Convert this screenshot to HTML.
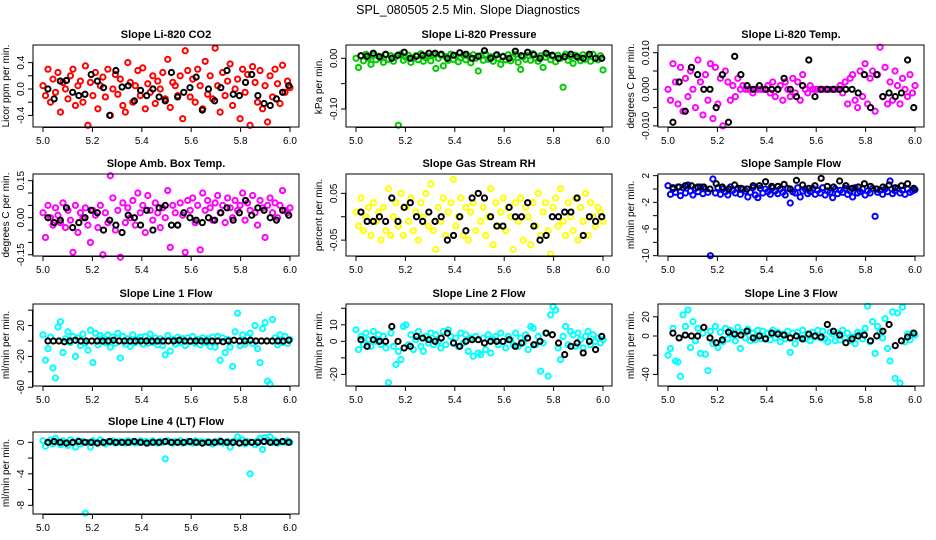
<!DOCTYPE html>
<html><head><meta charset="utf-8"><style>
body{margin:0;background:#fff}
svg{display:block;font-family:"Liberation Sans",sans-serif}
</style></head><body>
<svg id="chart" width="936" height="540" viewBox="0 0 936 540">
<text x="468" y="14" text-anchor="middle" font-size="12.5">SPL_080505  2.5 Min. Slope Diagnostics</text>
</svg>
<script>
const xTickLabels=["5.0","5.2","5.4","5.6","5.8","6.0"];
const xTickValues=[5.0,5.2,5.4,5.6,5.8,6.0];
const co2Vals=[0.05,-0.1,0.3,-0.2,0.15,-0.05,0.25,-0.35,0.1,0.0,-0.15,0.2,0.3,-0.25,0.05,0.12,-0.2,0.35,-0.55,0.1,-0.1,0.25,-0.3,0.05,0.18,-0.12,0.3,-0.4,0.0,0.22,-0.08,0.15,-0.25,-0.35,0.4,0.1,-0.2,0.05,0.28,-0.1,0.32,-0.3,0.08,-0.05,0.2,-0.22,0.12,0.0,0.25,-0.15,0.45,-0.28,0.1,0.05,-0.1,0.2,-0.45,0.58,0.28,-0.12,0.15,-0.2,0.3,0.05,-0.3,0.42,-0.08,0.2,-0.15,0.62,0.05,-0.35,0.25,-0.1,0.12,0.38,-0.25,0.0,0.15,-0.45,0.3,-0.05,0.22,-0.55,0.34,0.1,-0.2,0.28,-0.3,0.05,-0.5,0.2,-0.12,0.3,0.08,-0.22,0.36,-0.05,0.12,0.02];
const co2Black=[0.0,-0.15,0.12,0.13,-0.05,-0.1,-0.08,0.22,0.12,0.02,-0.4,0.28,0.03,0.05,-0.18,-0.02,-0.1,0.0,-0.12,-0.18,0.25,-0.12,-0.05,0.02,0.18,-0.32,0.0,-0.18,0.02,0.28,-0.08,-0.1,0.1,0.22,-0.1,-0.22,-0.25,-0.15,-0.05,0.05];
const presVals=[0.0,-0.018,0.005,-0.005,0.008,0.0,-0.012,0.006,-0.003,0.004,0.0,-0.008,0.007,-0.002,0.005,-0.006,0.003,-0.132,0.008,-0.004,0.002,0.006,-0.008,0.0,0.005,-0.003,0.009,-0.006,0.001,0.004,-0.005,0.007,-0.02,0.0,0.006,-0.015,0.003,-0.004,0.008,-0.002,0.005,-0.007,0.001,0.006,-0.003,0.004,-0.009,0.007,0.0,-0.025,0.005,-0.004,0.008,-0.002,0.003,-0.006,0.006,0.0,-0.012,0.004,-0.003,0.007,-0.005,0.002,0.008,-0.008,-0.022,0.003,-0.002,0.006,-0.004,0.009,0.0,-0.006,0.005,-0.018,0.002,0.007,-0.003,0.004,-0.007,0.006,0.0,-0.057,0.008,-0.004,0.003,-0.01,0.006,0.001,-0.005,0.007,-0.002,0.004,-0.006,0.008,0.0,-0.003,0.005,-0.023];
const presBlack=[0.005,0.004,0.01,0.003,0.008,0.0,0.006,0.012,0.0,0.004,0.006,0.01,0.01,0.008,0.0,0.006,0.011,0.008,0.0,0.004,0.015,0.0,0.007,0.003,0.0,0.014,0.005,0.012,0.007,0.0,0.01,0.006,0.0,0.003,0.008,0.003,0.0,0.008,0.0,0.0];
const tempVals=[0.0,-0.003,0.007,0.002,-0.004,0.006,-0.006,0.003,-0.002,0.005,0.0,-0.005,0.008,0.002,-0.007,0.004,-0.003,0.007,-0.008,0.006,-0.004,0.003,-0.01,0.005,0.002,-0.003,0.001,-0.002,0.003,0.0,0.001,0.0,0.0,0.0,-0.001,0.0,0.0,0.0,0.0,0.0,0.001,-0.001,0.002,-0.002,0.0,0.001,-0.003,0.002,0.0,-0.002,0.003,-0.001,0.002,-0.003,0.004,0.0,-0.001,0.001,0.0,0.0,0.0,0.0,0.0,0.0,0.0,0.0,0.0,0.0,0.0,0.001,-0.001,0.002,-0.004,0.003,0.004,-0.003,-0.005,0.005,-0.002,0.007,-0.004,0.003,0.005,-0.006,0.004,0.0115,-0.002,0.006,-0.004,0.002,-0.003,0.005,0.001,-0.004,0.003,0.0,-0.002,0.004,-0.001,0.001];
const tempBlack=[-0.009,0.002,-0.006,0.006,0.004,0.0,0.0,-0.005,0.004,-0.009,0.009,0.004,0.001,0.0,0.001,0.0,0.0,0.0,0.003,0.0,-0.002,0.001,0.008,-0.002,0.0,0.0,0.0,0.0,0.0,0.0,-0.001,0.004,-0.005,0.004,-0.002,-0.001,-0.002,-0.001,0.008,-0.005];
const ambVals=[0.02,-0.08,0.05,0.0,-0.03,0.04,0.01,-0.02,0.06,-0.04,0.03,-0.01,-0.14,0.05,-0.06,0.02,0.0,0.04,-0.03,-0.1,0.03,0.01,-0.04,0.05,-0.15,0.02,-0.02,0.17,0.08,-0.05,0.03,-0.16,0.06,-0.02,0.04,0.0,0.07,-0.03,0.1,0.02,0.05,-0.06,0.09,0.03,-0.01,0.06,0.02,-0.04,0.04,0.0,0.11,-0.12,0.05,0.02,-0.03,0.06,0.01,-0.14,0.07,0.03,0.08,-0.02,0.05,-0.13,0.1,0.03,0.07,0.04,-0.01,0.06,0.09,0.02,0.05,-0.02,0.08,0.04,0.0,0.07,0.03,0.05,0.1,-0.01,0.06,0.03,0.09,0.02,-0.03,0.07,0.04,-0.08,0.05,0.08,0.02,0.06,0.0,0.05,0.11,0.03,0.02,0.04];
const ambBlack=[0.0,-0.02,-0.01,0.04,-0.04,-0.02,0.0,0.03,0.02,-0.05,-0.01,-0.03,-0.06,0.01,0.0,-0.03,0.03,-0.05,0.04,0.05,-0.03,-0.03,0.02,0.0,-0.01,-0.02,0.0,-0.01,0.02,0.04,-0.01,0.02,0.07,0.01,0.04,0.03,0.0,-0.01,0.03,0.01];
const rhVals=[0.01,-0.02,0.04,-0.03,0.0,0.02,-0.04,0.03,-0.01,0.01,-0.05,0.02,-0.03,0.06,-0.04,0.0,0.03,-0.02,0.05,-0.04,0.02,-0.01,0.04,-0.03,0.01,-0.05,0.03,0.0,0.05,-0.02,0.07,-0.03,-0.07,0.02,-0.01,0.04,-0.04,0.01,0.03,0.08,-0.02,0.0,0.04,-0.04,0.02,-0.05,0.01,0.03,-0.03,0.05,-0.01,0.02,-0.04,0.0,0.06,-0.06,0.03,-0.02,0.01,0.04,-0.03,0.02,0.0,-0.07,0.03,-0.01,0.04,-0.05,0.02,0.0,-0.06,0.03,-0.02,0.05,-0.04,0.01,0.03,-0.03,-0.08,0.02,0.04,-0.02,0.06,-0.01,-0.04,0.03,0.0,-0.03,0.04,-0.05,0.02,-0.01,0.05,-0.04,0.03,0.0,-0.02,0.02,0.01,-0.01];
const rhBlack=[0.01,-0.01,-0.01,0.0,-0.01,0.04,-0.01,0.02,0.03,0.0,-0.01,0.01,-0.01,0.0,-0.05,-0.04,0.0,-0.03,0.04,0.05,0.04,0.0,-0.02,-0.02,0.02,0.0,0.0,0.03,-0.02,-0.05,-0.04,0.0,0.0,0.01,0.01,0.04,-0.04,0.0,-0.01,0.0];
const flowVals=[0.5,-0.8,0.0,-0.5,0.3,-1.0,0.2,-0.6,0.6,-0.3,-0.9,0.1,-0.4,0.3,-0.7,0.0,-0.5,-10,1.5,-0.6,0.2,-0.8,0.0,-0.4,-0.9,0.3,-0.2,-0.6,0.1,-0.8,0.0,-0.3,-1.2,-0.5,0.2,-0.9,-1.3,0.1,-0.6,0.0,-0.4,-0.8,0.2,-0.3,-0.7,0.0,-0.5,-0.9,0.1,-2.1,-0.4,-0.6,0.2,-1.2,-0.3,0.0,-0.7,-0.4,0.1,-0.8,-0.2,-0.6,0.2,-0.9,-0.3,-0.5,-1.3,0.0,-0.7,-0.2,-0.5,0.1,-0.8,-0.3,-1.2,0.2,-0.6,-0.4,0.0,-0.9,-0.3,-0.6,0.1,-4.1,-0.5,-0.2,-0.8,0.0,-0.4,1.2,-0.7,-0.3,0.1,-0.6,-0.2,-0.8,0.0,-0.5,-0.3,-0.1];
const flowBlack=[0.2,0.3,0.5,0.5,0.3,0.3,0.0,0.8,0.3,0.0,0.6,0.1,0.0,0.5,0.5,1.1,0.4,0.4,0.7,0.0,1.3,0.6,0.1,0.5,1.6,0.4,0.3,1.2,0.5,0.1,0.3,0.8,0.4,0.0,0.3,0.6,0.2,0.5,0.8,0.1];
const line1Vals=[8,-25,-10,5,-35,-48,18,25,-15,3,12,-2,6,-20,4,-6,9,-3,-12,14,-28,10,-5,7,4,-2,8,-8,5,-3,10,-22,6,-4,3,-7,8,-2,2,5,-4,6,-3,9,-2,4,-5,3,-6,-18,7,-13,2,-4,5,-2,3,-6,4,-1,6,-3,2,-5,4,-2,3,-7,5,-8,6,-25,4,-15,2,-8,-33,12,36,-6,8,-4,5,10,-3,20,-10,-28,16,24,-52,-56,28,4,-5,8,-2,6,-3,2];
const line1Black=[0,0,0,-1,0,1,0,0,0,0,0,0,1,0,0,0,0,0,0,0,0,0,0,0,1,0,0,0,0,0,0,0,-1,0,1,0,0,1,0,0,0,0,0,0,1];
const line2Vals=[7,-5,3,-2,5,1,-3,6,0,4,-2,3,-4,-25,5,-3,-14,-6,-11,9,10,-2,4,-5,1,6,-3,-6,3,-1,5,-2,4,0,-4,6,-2,7,3,-1,2,-3,5,-1,4,-6,2,-9,3,-7,-8,2,-5,4,-7,1,3,-2,5,0,-4,3,1,-2,5,-3,2,-1,4,-5,9,8,-2,3,-18,-1,5,-21,16,21,19,-4,-11,3,9,-2,6,4,-3,5,1,-4,3,6,-2,4,0,2,-1,1];
const line2Black=[1,-3,1,0,0,9,0,-4,-3,3,2,1,0,2,5,-1,-3,0,1,1,-1,0,0,0,1,-3,-1,2,-2,0,5,4,-1,-8,-3,-1,-7,0,-5,3];
const line3Vals=[-20,-13,8,-26,-27,-42,22,10,27,-12,15,-5,8,-18,3,-19,-36,5,-8,10,-12,4,-6,8,-3,6,2,-5,9,-13,4,-2,7,-5,3,-4,6,-3,5,-2,3,-4,6,-2,4,-6,2,-3,5,-17,3,-8,4,-2,6,-3,2,-5,4,-1,6,-2,5,-3,-6,4,2,-5,3,-4,6,-2,3,-5,-1,-8,4,2,-3,8,31,-6,15,-18,10,5,-2,18,-13,-26,25,-44,24,-49,30,-6,2,-4,3,1];
const line3Black=[3,-2,1,0,0,9,-2,-7,-4,4,2,1,5,-2,0,-3,3,2,1,-2,0,-3,2,0,-1,12,5,1,-7,-3,0,1,-5,0,5,12,-10,-5,-1,3];
const line4Vals=[0.2,-0.5,0.0,0.3,-0.2,0.5,0.1,-0.3,0.2,0.0,-0.4,0.3,0.0,-0.6,0.2,-0.2,0.1,-9.0,0.0,-0.6,0.2,0.0,-0.1,0.3,0.0,-0.2,0.1,0.0,0.2,-0.1,0.0,0.1,0.0,-0.1,0.2,0.0,0.1,-0.1,0.0,0.2,0.0,0.1,-0.1,0.0,0.2,0.0,-0.1,0.1,0.0,-2.1,0.2,0.0,-0.1,0.1,0.0,0.2,-0.1,0.0,0.1,0.0,-0.1,0.2,0.0,0.1,-0.1,0.0,0.1,0.0,-0.2,0.1,0.0,0.2,-0.1,0.0,0.1,-0.6,0.0,0.2,0.7,0.0,0.3,-0.2,0.1,-4.0,0.0,-0.3,0.2,0.5,-0.9,0.6,0.3,0.7,0.0,0.2,-0.1,0.0,0.1,0.0,0.2,0.0];
const line4Black=[0,0.1,0,-0.1,0,0.1,0,0,-0.1,0,0.1,0,0,0,0.1,0,-0.1,0,0,0.1,0,0,0,0.1,0,-0.1,0,0,0.1,0,0,-0.1,0,0,0,0.1,0,0,0.1,0];

const NS="http://www.w3.org/2000/svg";
const svg=document.getElementById('chart');
function mk(tag,attrs,parent){const e=document.createElementNS(NS,tag);for(const k in attrs)e.setAttribute(k,attrs[k]);(parent||svg).appendChild(e);return e;}
const colLeft=[33,346,658],rowTop=[45,174,304,432],BW=266,BH=82;
const panels=[
{id:'co2',title:'Slope Li-820 CO2',yl:'Licor ppm per min.',c:0,r:0,ymin:-0.576,ymax:0.667,ticks:[-0.4,-0.2,0,0.2,0.4],labs:{"-0.4":"-0.4","0":"0.0","0.4":"0.4"},col:'#ff0000',v:co2Vals,b:co2Black},
{id:'pressure',title:'Slope Li-820 Pressure',yl:'kPa per min.',c:1,r:0,ymin:-0.1355,ymax:0.0262,ticks:[-0.1,-0.05,0],labs:{"-0.1":"-0.10","0":"0.00"},col:'#00cc00',v:presVals,b:presBlack},
{id:'temp',title:'Slope Li-820 Temp.',yl:'degrees C per min.',c:2,r:0,ymin:-0.0103,ymax:0.0121,ticks:[-0.01,-0.005,0,0.005,0.01],labs:{"-0.01":"-0.010","0":"0.000","0.01":"0.010"},col:'#ff00ff',v:tempVals,b:tempBlack},
{id:'amb-temp',title:'Slope Amb. Box Temp.',yl:'degrees C per min.',c:0,r:1,ymin:-0.155,ymax:0.177,ticks:[-0.15,-0.1,-0.05,0,0.05,0.1,0.15],labs:{"-0.15":"-0.15","0":"0.00","0.15":"0.15"},col:'#ff00ff',v:ambVals,b:ambBlack},
{id:'rh',title:'Slope Gas Stream RH',yl:'percent per min.',c:1,r:1,ymin:-0.084,ymax:0.0914,ticks:[-0.05,0,0.05],labs:{"-0.05":"-0.05","0.05":"0.05"},col:'#ffff00',v:rhVals,b:rhBlack},
{id:'sample-flow',title:'Slope Sample Flow',yl:'ml/min per min.',c:2,r:1,ymin:-10.05,ymax:2.25,ticks:[2,0,-2,-4,-6,-8,-10],labs:{"2":"2","-2":"-2","-6":"-6","-10":"-10"},col:'#0000ff',v:flowVals,b:flowBlack},
{id:'line1',title:'Slope Line 1 Flow',yl:'ml/min per min.',c:0,r:2,ymin:-58.4,ymax:48,ticks:[40,20,0,-20,-40,-60],labs:{"20":"20","-20":"-20","-60":"-60"},col:'#00ffff',v:line1Vals,b:line1Black},
{id:'line2',title:'Slope Line 2 Flow',yl:'ml/min per min.',c:1,r:2,ymin:-27,ymax:22.6,ticks:[20,10,0,-10,-20],labs:{"10":"10","0":"0","-20":"-20"},col:'#00ffff',v:line2Vals,b:line2Black},
{id:'line3',title:'Slope Line 3 Flow',yl:'ml/min per min.',c:2,r:2,ymin:-52,ymax:33.3,ticks:[20,0,-20,-40],labs:{"20":"20","0":"0","-40":"-40"},col:'#00ffff',v:line3Vals,b:line3Black},
{id:'line4',title:'Slope Line 4 (LT) Flow',yl:'ml/min per min.',c:0,r:3,ymin:-9.1,ymax:1.31,ticks:[0,-2,-4,-6,-8],labs:{"0":"0","-4":"-4","-8":"-8"},col:'#00ffff',v:line4Vals,b:line4Black}
];
panels.forEach(p=>{
  const L=colLeft[p.c],T=rowTop[p.r];
  const g=mk('g',{});
  
  
  const xs=v=>L+10+(v-5)*247;
  const ys=v=>T+(p.ymax-v)/(p.ymax-p.ymin)*BH;
  const t=mk('text',{x:L+BW/2,y:T-7,'text-anchor':'middle','font-size':11,'font-weight':'bold'},g);t.textContent=p.title;
  
  
  const yt=mk('text',{x:0,y:0,'text-anchor':'middle','font-size':10,transform:`translate(${L-24},${T+BH/2}) rotate(-90)`},g);yt.textContent=p.yl;
  
  
  const pg=mk('g',{fill:'none','stroke-width':2},g);
  
  
  p.v.forEach((v,i)=>{const c=mk('circle',{cx:xs(5+i/(p.v.length-1)),cy:ys(v),r:2.6,stroke:p.col},pg);
    
    });
  p.b.forEach((v,i)=>{const c=mk('circle',{cx:xs(5.02+i/(p.b.length-1)*0.975),cy:ys(v),r:2.6,stroke:'#000'},pg);
    
    });
  const box=mk('rect',{x:L,y:T,width:BW,height:BH,fill:'none',stroke:'#000','stroke-width':1},g);
  
  
  const ax=mk('g',{},g);
  
  
  mk('line',{x1:xs(5),x2:xs(6),y1:T+BH+0.5,y2:T+BH+0.5,stroke:'#000'},ax);
  xTickValues.forEach((v,i)=>{
    mk('line',{x1:xs(v),x2:xs(v),y1:T+BH,y2:T+BH+5,stroke:'#000'},ax);
    const tl=mk('text',{x:xs(v),y:T+BH+17,'text-anchor':'middle','font-size':10},ax);tl.textContent=xTickLabels[i];
  });
  const ay=mk('g',{},g);
  
  
  mk('line',{x1:L-0.5,x2:L-0.5,y1:ys(Math.max(...p.ticks)),y2:ys(Math.min(...p.ticks)),stroke:'#000'},ay);
  p.ticks.forEach(v=>{
    mk('line',{x1:L-5,x2:L,y1:ys(v),y2:ys(v),stroke:'#000'},ay);
    const lab=p.labs[String(v)];
    if(lab!==undefined){const tl=mk('text',{x:0,y:0,'text-anchor':'middle','font-size':10,transform:`translate(${L-9},${ys(v)}) rotate(-90)`},ay);tl.textContent=lab;}
  });
});
</script>
</body></html>
